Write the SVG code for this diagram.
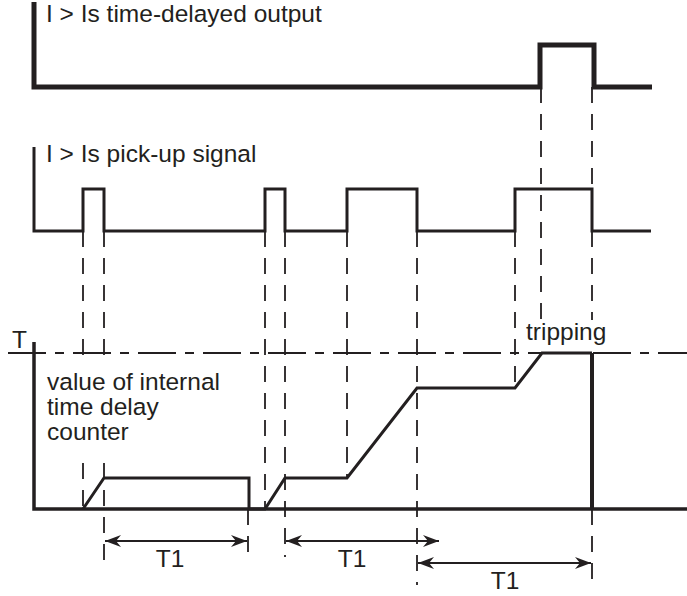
<svg xmlns="http://www.w3.org/2000/svg" width="687" height="596" viewBox="0 0 687 596">
<style>
.sig{fill:none;stroke:#231f20;stroke-linejoin:miter;stroke-linecap:butt}
.dash{fill:none;stroke:#231f20;stroke-width:1.8;stroke-dasharray:16 11}
.dd{fill:none;stroke:#231f20;stroke-width:1.8;stroke-dasharray:38 9 9 9}
.dim{fill:none;stroke:#231f20;stroke-width:1.8}
text{font-family:"Liberation Sans",Arial,sans-serif;font-size:24.5px;fill:#231f20}
</style>
<defs>
<marker id="ah" viewBox="0 0 16 12" refX="16" refY="6" markerWidth="16" markerHeight="12" markerUnits="userSpaceOnUse" orient="auto-start-reverse">
<path d="M0,0 L16,6 L0,12 L5,6 z" fill="#231f20"/>
</marker>
</defs>
<g id="output-signal">
<path class="sig" stroke-width="5" d="M34,2 V87 H540 V45 H594 V87 H652"/>
<text x="46" y="22">I &gt; Is time-delayed output</text>
</g>
<g id="pickup-signal">
<path class="sig" stroke-width="3" d="M34,147 V231 H83 V189 H104 V231 H265 V189 H285 V231 H347 V189 H417 V231 H515 V189 H592 V231 H651"/>
<text x="46" y="162">I &gt; Is pick-up signal</text>
</g>
<g id="counter">
<path class="sig" stroke-width="3.5" d="M34,342 V509 H687"/>
<path class="dd" d="M8,353 H687"/>
<text x="12" y="348">T</text>
<path class="sig" stroke-width="3" d="M83,509 L104,478 H249 V509 H265 L285,478 H347 L417,388 H515 L542,353 H592"/>
<path class="sig" stroke-width="4" d="M592,353 V509"/>
<text x="47" y="390">value of internal</text>
<text x="47" y="415">time delay</text>
<text x="47" y="440">counter</text>
<text x="526" y="340">tripping</text>
</g>
<g id="connectors">
<path class="dash" d="M83,231 V356 M83,463 V509"/>
<path class="dash" d="M104,231 V356 M104,463 V560"/>
<path class="dash" d="M248,509 V557"/>
<path class="dash" d="M265,231 V509"/>
<path class="dash" d="M285,231 V557"/>
<path class="dash" d="M347,231 V478"/>
<path class="dash" d="M417,231 V585"/>
<path class="dash" d="M515,231 V388"/>
<path class="dash" d="M541,87 V320"/>
<path class="dash" d="M592,87 V189"/>
<path class="dash" d="M592,231 V320"/>
<path class="dash" d="M592,509 V585"/>
<path class="dim" d="M105,541 H247" marker-start="url(#ah)" marker-end="url(#ah)"/>
<path class="dim" d="M286,541 H439" marker-start="url(#ah)" marker-end="url(#ah)"/>
<path class="dim" d="M418,563 H591" marker-start="url(#ah)" marker-end="url(#ah)"/>
</g>
<g id="labels">
<text x="170" y="567" text-anchor="middle">T1</text>
<text x="352" y="567" text-anchor="middle">T1</text>
<text x="505" y="589" text-anchor="middle">T1</text>
</g>
</svg>
